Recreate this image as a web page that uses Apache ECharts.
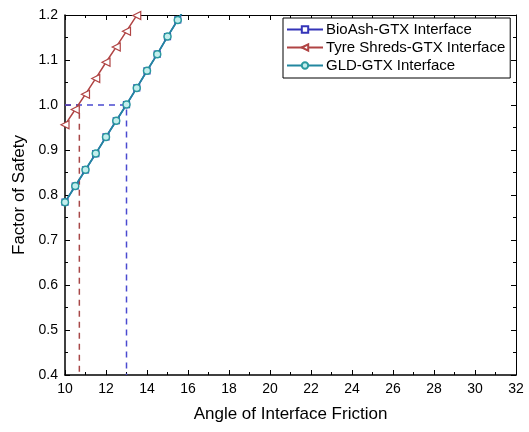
<!DOCTYPE html>
<html>
<head>
<meta charset="utf-8">
<script src="https://cdn.jsdelivr.net/npm/echarts@6/dist/echarts.min.js"></script>
<style>
  html, body { margin: 0; padding: 0; background: #fff; }
  #chart { width: 529px; height: 432px; }
</style>
</head>
<body>
<div id="chart"></div>
<script>
// angle of interface friction (deg)
var angles = [10, 10.5, 11, 11.5, 12, 12.5, 13, 13.5, 14, 14.5, 15, 15.5, 16];
var bioAsh = [0.784, 0.820, 0.856, 0.892, 0.929, 0.965, 1.001, 1.038, 1.076, 1.113, 1.152, 1.189, 1.227];
var tyre = [0.956, 0.990, 1.024, 1.059, 1.095, 1.129, 1.164, 1.199, 1.234];
var gld = [0.784, 0.820, 0.856, 0.892, 0.929, 0.965, 1.001, 1.038, 1.076, 1.113, 1.152, 1.189, 1.227];
var names = ['BioAsh-GTX Interface', 'Tyre Shreds-GTX Interface', 'GLD-GTX Interface'];
// FS = 1.0 crossings
var tyreCross = 10.7;
var gldCross = 13.0;

function pairs(ys) {
  return ys.map(function (v, i) { return [angles[i], v]; });
}

var chart = echarts.init(document.getElementById('chart'));
var font = 'Liberation Sans, Arial, sans-serif';

var tickStyle = { show: true, inside: true, length: 5, lineStyle: { color: '#000', width: 1 } };
var minorStyle = { show: true, splitNumber: 2, length: 3, lineStyle: { color: '#000', width: 1 } };

var option = {
  animation: false,
  grid: { left: 65, right: 13, top: 15, bottom: 57 },
  legend: {
    data: names,
    orient: 'vertical',
    left: 283,
    top: 18,
    itemWidth: 36,
    itemHeight: 8,
    itemGap: 3,
    padding: [4, 5, 5, 3],
    borderColor: '#000',
    borderWidth: 1,
    backgroundColor: '#fff',
    textStyle: { fontFamily: font, fontSize: 15, color: '#000', padding: [0, 0, 0, -2] }
  },
  xAxis: [{
    type: 'value', min: 10, max: 32, interval: 2,
    name: 'Angle of Interface Friction', nameLocation: 'middle', nameGap: 31,
    nameTextStyle: { fontFamily: font, fontSize: 17, color: '#000' },
    axisLine: { lineStyle: { color: '#000', width: 1.5 } },
    axisTick: tickStyle, minorTick: minorStyle,
    axisLabel: { fontFamily: font, fontSize: 14, color: '#000', margin: 7 },
    splitLine: { show: false }
  }, {
    type: 'value', min: 10, max: 32, interval: 2, position: 'top',
    axisLine: { show: true, onZero: false, lineStyle: { color: '#000', width: 1 } },
    axisTick: tickStyle, minorTick: minorStyle,
    axisLabel: { show: false }, splitLine: { show: false }
  }],
  yAxis: [{
    type: 'value', min: 0.4, max: 1.2, interval: 0.1,
    name: 'Factor of Safety', nameLocation: 'middle', nameGap: 33,
    nameTextStyle: { fontFamily: font, fontSize: 17, color: '#000' },
    axisLine: { show: true, lineStyle: { color: '#000', width: 1.5 } },
    axisTick: tickStyle, minorTick: minorStyle,
    axisLabel: { fontFamily: font, fontSize: 14, color: '#000', margin: 7,
      formatter: function (v) { return v.toFixed(1); } },
    splitLine: { show: false }
  }, {
    type: 'value', min: 0.4, max: 1.2, interval: 0.1, position: 'right',
    axisLine: { show: true, onZero: false, lineStyle: { color: '#000', width: 1 } },
    axisTick: tickStyle, minorTick: minorStyle,
    axisLabel: { show: false }, splitLine: { show: false }
  }],
  series: [
    {
      name: 'guide-tyre', type: 'line', silent: true, symbol: 'none',
      data: [[10, 1.0], [tyreCross, 1.0], [tyreCross, 0.4]],
      lineStyle: { color: '#a84848', width: 1.5, type: [6, 5] }
    },
    {
      name: 'guide-gld', type: 'line', silent: true, symbol: 'none',
      data: [[10, 1.0], [gldCross, 1.0], [gldCross, 0.4]],
      lineStyle: { color: '#4a4ad0', width: 1.5, type: [6, 5] }
    },
    {
      name: names[0], type: 'line', data: pairs(bioAsh),
      symbol: 'rect', symbolSize: 6,
      itemStyle: { color: '#fff', borderColor: '#3434b8', borderWidth: 1.2 },
      lineStyle: { color: '#3434b8', width: 1.5 }
    },
    {
      name: names[1], type: 'line', data: pairs(tyre),
      symbol: 'triangle', symbolSize: 8, symbolRotate: 90,
      itemStyle: { color: '#fff', borderColor: '#b04444', borderWidth: 1.2 },
      lineStyle: { color: '#b04444', width: 1.5 }
    },
    {
      name: names[2], type: 'line', data: pairs(gld),
      symbol: 'circle', symbolSize: 7,
      itemStyle: { color: '#c4eeee', borderColor: '#2a9a9e', borderWidth: 1.5 },
      lineStyle: { color: '#2287a0', width: 1.8 }
    }
  ]
};

chart.setOption(option);
</script>
</body>
</html>
